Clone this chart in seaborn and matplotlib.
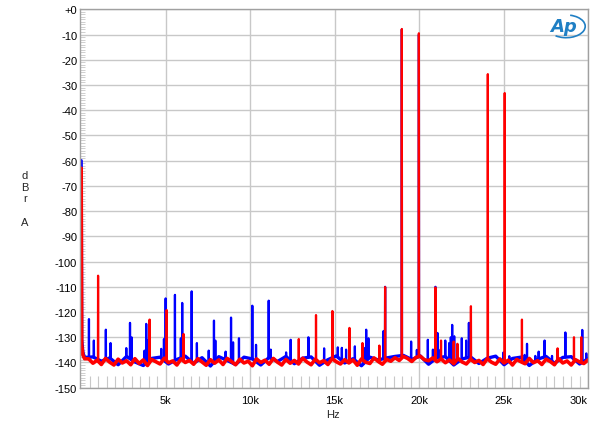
import numpy as np
import pandas as pd
import matplotlib
matplotlib.use("Agg")
from matplotlib import pyplot as plt
from matplotlib.patches import Arc
import seaborn as sns

# spectrum data, frequencies in kHz, levels in dBr A
lf_x = [0.0, 0.03, 0.1, 0.2]
lf_blue = [-60.0, -131.0, -136.0, -138.0]
lf_red = [-63.0, -133.0, -137.0, -138.5]

# noise floor (red every 0.25k, blue every 0.5k)
red_floor = [
    -138.6, -140.3, -139.1, -140.8, -138.4, -139.9, -141.0, -138.7, -140.2, -139.3, -140.9, -138.5,
    -140.4, -139.0, -141.2, -138.8, -139.7, -140.6, -138.3, -140.1, -139.4, -141.0, -138.6, -140.0,
    -139.2, -140.7, -138.5, -139.8, -141.1, -138.9, -140.3, -139.0, -140.8, -138.4, -139.6, -140.9,
    -138.7, -140.2, -139.5, -141.3, -138.6, -140.0, -139.1, -140.7, -138.4, -139.9, -141.0, -138.8,
    -140.3, -139.2, -140.6, -138.3, -139.8, -140.9, -138.7, -140.1, -139.3, -140.8, -138.5, -139.7,
    -140.6, -138.9, -140.2, -139.0, -141.1, -138.6, -139.9, -140.4, -138.2, -139.6, -140.7, -138.8,
    -139.5, -138.1, -139.2, -137.6, -138.4, -139.6, -138.0, -137.5, -138.9, -139.3, -138.2, -139.7,
    -138.6, -140.1, -139.0, -140.5, -138.4, -139.8, -140.6, -138.7, -140.0, -139.2, -140.8, -138.5,
    -139.9, -140.7, -138.6, -140.2, -139.1, -141.0, -138.8, -139.7, -140.5, -138.4, -140.1, -139.3,
    -140.8, -138.7, -139.6, -140.9, -138.5, -140.2, -139.4, -141.0, -138.9, -139.8, -140.4, -139.0,
]
blue_floor = [
    -137.8, -139.5, -138.2, -140.9, -137.6, -139.8, -141.2, -138.4, -137.9, -140.6, -138.8, -137.5,
    -140.3, -138.1, -141.4, -137.7, -139.2, -140.8, -137.9, -138.6, -141.0, -138.0, -139.6, -137.6,
    -140.5, -138.3, -137.8, -141.1, -138.9, -137.4, -140.2, -138.5, -141.3, -137.9, -139.0, -138.2,
    -137.6, -137.2, -138.8, -137.4, -140.7, -138.1, -137.7, -141.0, -138.6, -137.8, -140.4, -138.3,
    -137.5, -140.9, -138.4, -137.9, -141.2, -138.7, -137.6, -140.3, -138.0, -137.7, -140.6, -138.5,
]

red_peak_f = [1.0, 4.05, 5.06, 6.06, 12.88, 13.9, 14.87, 15.88, 16.65, 17.65, 17.99, 18.98,
              19.99, 20.97, 21.3, 22.05, 22.27, 23.07, 24.07, 25.07, 26.09, 28.2, 29.17, 29.6]
red_peak_db = [-105.6, -123.0, -119.2, -128.7, -130.7, -121.2, -119.6, -126.3, -132.3, -133.3, -110.1, -7.8,
               -9.5, -110.3, -131.3, -131.7, -132.6, -117.7, -25.7, -33.2, -123.0, -134.4, -130.0, -130.0]

blue_peak_f = [0.46, 0.75, 1.46, 1.74, 2.67, 2.89, 2.98, 3.75, 3.85, 3.95, 4.74, 4.9, 5.0, 5.55,
               5.9, 5.98, 6.54, 6.85, 7.55, 7.86, 7.94, 8.55, 8.87, 8.99, 9.34, 10.13, 10.35, 11.1,
               11.22, 12.13, 12.4, 13.45, 14.38, 15.19, 15.43, 15.68, 16.2, 16.73, 16.87, 17.0, 17.9,
               17.99, 18.98, 19.53, 19.87, 19.99, 20.52, 20.82, 20.97, 21.09, 21.15, 21.55, 21.78,
               21.88, 21.96, 22.08, 22.53, 22.79, 22.95, 25.0, 25.34, 26.25, 26.39, 26.88, 27.08,
               27.43, 27.87, 28.66, 29.66, 29.9]
blue_peak_db = [-122.8, -131.3, -127.0, -132.3, -134.3, -124.3, -130.0, -135.3, -124.7, -131.0, -134.6,
                -130.7, -114.6, -113.2, -130.4, -116.4, -111.8, -132.3, -135.3, -123.4, -131.3, -135.7,
                -122.2, -132.0, -130.4, -117.5, -133.0, -115.5, -134.9, -136.0, -131.0, -130.0, -134.4,
                -134.0, -134.2, -134.9, -133.6, -134.2, -127.0, -130.4, -127.5, -110.0, -8.0, -131.7,
                -135.0, -10.0, -131.0, -134.9, -110.0, -128.3, -134.9, -131.3, -132.3, -130.0, -125.1,
                -129.6, -130.4, -131.3, -124.3, -136.0, -137.5, -137.0, -132.6, -137.4, -135.7, -131.3,
                -137.4, -128.1, -127.1, -136.4]

x_ticks = [5, 10, 15, 20, 25, 30]
x_labels = ["5k", "10k", "15k", "20k", "25k", "30k"]
y_ticks = list(range(-150, 1, 10))
y_labels = ["+0" if v == 0 else str(v) for v in y_ticks]


def floor_frame(lf_y, floor):
    fx = np.linspace(lf_x[-1] + (30 - lf_x[-1]) / len(floor), 30, len(floor))
    return pd.DataFrame({"Hz": list(lf_x) + list(fx), "dB": list(lf_y) + list(floor)})


def peak_frame(floor_df, peak_f, peak_db):
    rows = []
    for i, (f, db) in enumerate(zip(peak_f, peak_db)):
        base = np.interp(f, floor_df["Hz"], floor_df["dB"])
        rows.append((i, f - 0.01, base))
        rows.append((i, f, db))
        rows.append((i, f + 0.01, base))
    return pd.DataFrame(rows, columns=["peak", "Hz", "dB"])


blue_floor_df = floor_frame(lf_blue, blue_floor)
red_floor_df = floor_frame(lf_red, red_floor)
blue_peaks = peak_frame(blue_floor_df, blue_peak_f, blue_peak_db)
red_peaks = peak_frame(red_floor_df, red_peak_f, red_peak_db)

sns.set_style("white")
plt.rcParams["font.family"] = ["Liberation Sans", "DejaVu Sans"]
plt.rcParams["xtick.bottom"] = True
plt.rcParams["ytick.left"] = True

fig = plt.figure(figsize=(6.0, 4.31), dpi=100)
ax = fig.add_axes([80 / 600, 1 - 388.7 / 431, 508 / 600, 378.4 / 431])

blue, red = "#0000ff", "#ff0000"
sns.lineplot(data=blue_floor_df, x="Hz", y="dB", sort=False, estimator=None, color=blue, lw=2.4, ax=ax)
sns.lineplot(data=blue_peaks, x="Hz", y="dB", units="peak", sort=False, estimator=None, color=blue, lw=1.6, ax=ax)
sns.lineplot(data=red_floor_df, x="Hz", y="dB", sort=False, estimator=None, color=red, lw=2.6, ax=ax)
sns.lineplot(data=red_peaks, x="Hz", y="dB", units="peak", sort=False, estimator=None, color=red, lw=1.6, ax=ax)

ax.set_xlim(-0.07, 30)
ax.set_ylim(-150, 0)
ax.set_xticks(x_ticks)
ax.set_xticklabels(x_labels)
ax.set_yticks(y_ticks)
ax.set_yticklabels(y_labels)
ax.set_xticks(np.arange(0.5, 30, 0.5), minor=True)
ax.set_yticks(np.arange(-149, 0, 1), minor=True)
ax.grid(True, which="major", color="#c8c8c8", lw=1.0)
ax.set_axisbelow(True)
ax.tick_params(axis="both", which="major", length=0, labelsize=8, colors="black")
ax.tick_params(axis="x", which="major", pad=5)
ax.tick_params(axis="y", which="major", pad=2)
ax.tick_params(axis="x", which="minor", direction="in", length=8.6, width=0.8, color="#c8c8c8", bottom=True)
ax.tick_params(axis="y", which="minor", direction="in", length=3.6, width=0.6, color="#c8c8c8", left=True)
ax.get_xticklabels()[-1].set_ha("right")
for s in ax.spines.values():
    s.set_color("#a0a0a0")
    s.set_linewidth(1.0)
ax.set_xlabel("")
ax.set_ylabel("")

fig.text(25 / 600, 1 - 199.5 / 431, "d\nB\nr\n\nA", ha="center", va="center", fontsize=8, linespacing=1.2)
fig.text(333 / 600, 1 - 415 / 431, "Hz", ha="center", va="center", fontsize=8)

# Ap logo
ax.text(0.952, 0.957, "Ap", transform=ax.transAxes, ha="center", va="center",
        fontsize=13, fontstyle="italic", fontweight="bold", color="#1f7fc4", family="DejaVu Sans")
ax.add_patch(Arc((0.957, 0.955), 0.075, 0.06, theta1=-130, theta2=75,
                 transform=ax.transAxes, color="#1f7fc4", lw=1.2))

fig.savefig("out.png", dpi=100)
